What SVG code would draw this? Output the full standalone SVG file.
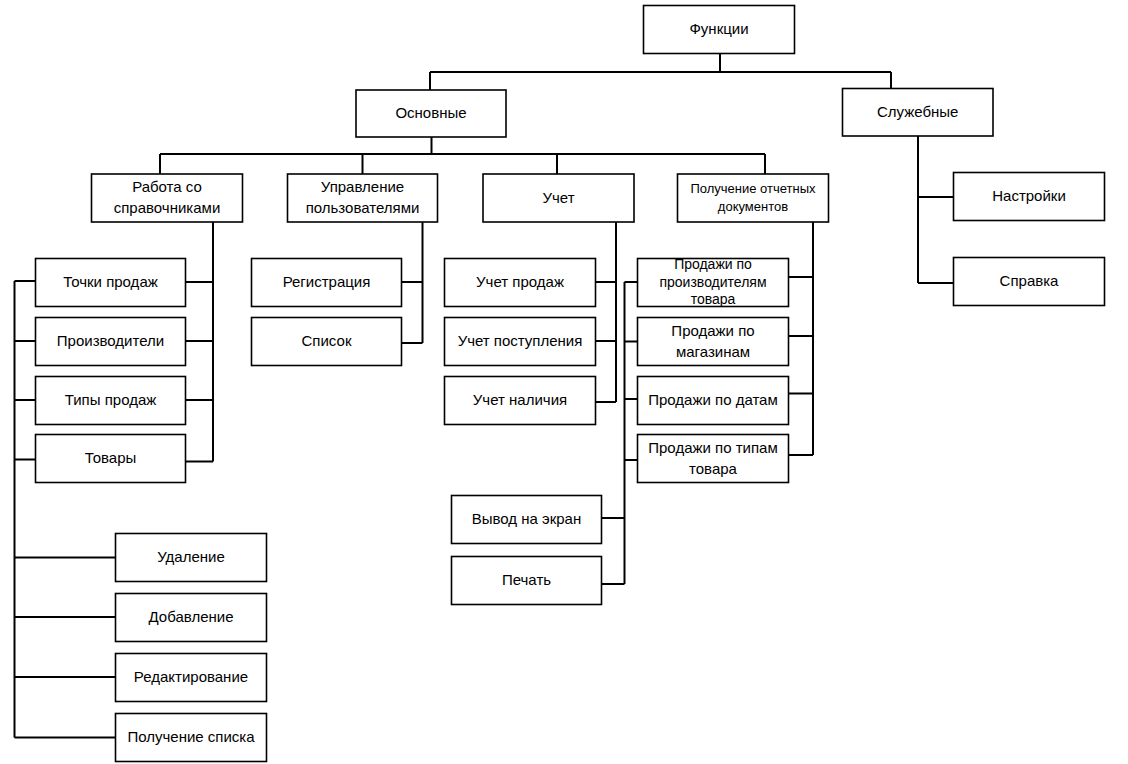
<svg xmlns="http://www.w3.org/2000/svg" width="1128" height="764" viewBox="0 0 1128 764">
<style>
rect{fill:#fff;stroke:#000;stroke-width:1.6}
text{font-family:"Liberation Sans",Arial,sans-serif;font-size:15px;fill:#000;text-anchor:middle;dominant-baseline:central}
.s{font-size:13px}
.m{font-size:14px}
#connectors path{fill:none;stroke:#000;stroke-width:2}
</style>
<rect x="0" y="0" width="1128" height="764" style="fill:#fff;stroke:none"/>
<g id="connectors">
<path d="M720 53.5V72M430 72H891M430 72V90M891 72V88.5"/>
<path d="M431.5 137V154M160 154H765M160 154V174M362.5 154V174M557 154V174M765 154V174"/>
<path d="M213 222V461.5M185.5 282H213M185.5 341H213M185.5 400H213M185.5 461.5H213"/>
<path d="M14.5 281V737.5M14.5 281H35.5M14.5 341H35.5M14.5 400H35.5M14.5 459.5H35.5M14.5 557.5H115.5M14.5 617H115.5M14.5 677H115.5M14.5 737.5H115.5"/>
<path d="M422.5 222V343M401.5 282H422.5M401.5 343H422.5"/>
<path d="M616 222V402M595.5 282H616M595.5 341H616M595.5 402H616"/>
<path d="M813 222V455M788.5 277H813M788.5 336H813M788.5 393.5H813M788.5 455H813"/>
<path d="M624.5 282V584M624.5 282H637.5M624.5 341.5H637.5M624.5 399H637.5M624.5 460H637.5M601.5 518H624.5M601.5 584H624.5"/>
<path d="M918 136V283M918 197H953.5M918 283H953.5"/>
</g>
<g id="n-func"><rect x="643.5" y="5.5" width="151" height="48"/><text x="719" y="28.5">Функции</text></g>
<g id="n-osn"><rect x="356" y="90" width="150" height="47"/><text x="431" y="112.5">Основные</text></g>
<g id="n-slu"><rect x="842.5" y="88.5" width="150.5" height="47.5"/><text x="917.7" y="111">Служебные</text></g>
<g id="n-rab"><rect x="91.5" y="174" width="151" height="48"/><text x="167" y="186.5">Работа со</text><text x="167" y="207.5">справочниками</text></g>
<g id="n-upr"><rect x="287.5" y="174" width="150" height="48"/><text x="362.5" y="186.5">Управление</text><text x="362.5" y="207.5">пользователями</text></g>
<g id="n-uch"><rect x="483" y="174" width="151" height="48"/><text x="558.5" y="197">Учет</text></g>
<g id="n-pol"><rect x="677.5" y="174" width="151" height="48"/><text class="s" x="753" y="188.5">Получение отчетных</text><text class="s" x="753" y="206.5">документов</text></g>
<g id="n-tochki"><rect x="35.5" y="258.5" width="150" height="48"/><text x="110.5" y="281.5">Точки продаж</text></g>
<g id="n-proizv"><rect x="35.5" y="317.5" width="150" height="48"/><text x="110.5" y="340.5">Производители</text></g>
<g id="n-tipy"><rect x="35.5" y="376.5" width="150" height="48"/><text x="110.5" y="399.5">Типы продаж</text></g>
<g id="n-tovary"><rect x="35.5" y="434.5" width="150" height="48"/><text x="110.5" y="457.5">Товары</text></g>
<g id="n-reg"><rect x="251.5" y="258.5" width="150" height="48"/><text x="326.5" y="281.5">Регистрация</text></g>
<g id="n-spisok"><rect x="251.5" y="317.5" width="150" height="48"/><text x="326.5" y="340.5">Список</text></g>
<g id="n-uprod"><rect x="444.5" y="258.5" width="151" height="48"/><text x="520" y="281.5">Учет продаж</text></g>
<g id="n-upost"><rect x="444.5" y="317.5" width="151" height="48"/><text x="520" y="340.5">Учет поступления</text></g>
<g id="n-unal"><rect x="444.5" y="376.5" width="151" height="48"/><text x="520" y="399.5">Учет наличия</text></g>
<g id="n-pp"><rect x="637.5" y="258.5" width="151" height="48"/><text class="m" x="713" y="264">Продажи по</text><text class="m" x="713" y="281.5">производителям</text><text class="m" x="713" y="299">товара</text></g>
<g id="n-pm"><rect x="637.5" y="317.5" width="151" height="48"/><text x="713" y="330">Продажи по</text><text x="713" y="351">магазинам</text></g>
<g id="n-pd"><rect x="637.5" y="376.5" width="151" height="48"/><text x="713" y="399.5">Продажи по датам</text></g>
<g id="n-pt"><rect x="637.5" y="434.5" width="151" height="48"/><text x="713" y="447">Продажи по типам</text><text x="713" y="468">товара</text></g>
<g id="n-vyvod"><rect x="451.5" y="495.5" width="150" height="48"/><text x="526.5" y="518.5">Вывод на экран</text></g>
<g id="n-pechat"><rect x="451.5" y="556.5" width="150" height="48"/><text x="526.5" y="579.5">Печать</text></g>
<g id="n-udal"><rect x="115.5" y="533.5" width="151" height="48"/><text x="191" y="556.5">Удаление</text></g>
<g id="n-dob"><rect x="115.5" y="593.5" width="151" height="48"/><text x="191" y="616.5">Добавление</text></g>
<g id="n-red"><rect x="115.5" y="653.5" width="151" height="48"/><text x="191" y="676.5">Редактирование</text></g>
<g id="n-polsp"><rect x="115.5" y="713.5" width="151" height="48"/><text x="191" y="736.5">Получение списка</text></g>
<g id="n-nastr"><rect x="953.5" y="172.5" width="151" height="48"/><text x="1029" y="195.5">Настройки</text></g>
<g id="n-sprav"><rect x="953.5" y="257.5" width="151" height="48"/><text x="1029" y="280.5">Справка</text></g>
</svg>
